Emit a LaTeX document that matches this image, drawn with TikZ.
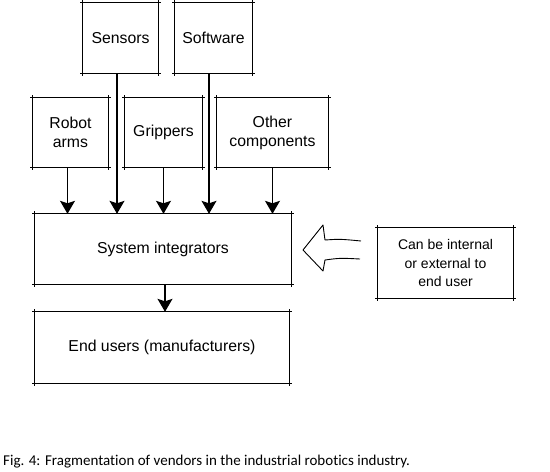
\documentclass[tikz,border=0pt]{standalone}
\usepackage{fontspec}
\setmainfont{Liberation Sans}
\newfontfamily\capfont[Ligatures=NoCommon]{Carlito}
\usetikzlibrary{arrows.meta}

\tikzset{
  ext/.style = {shorten <=-2.5pt, shorten >=-2.5pt, line width=0.9pt},
  sketch/.style = {inner sep=0pt, align=center, font=\fontsize{15.8}{19}\selectfont,
    append after command = {
      (\tikzlastnode.north west) edge[ext] (\tikzlastnode.north east)
      (\tikzlastnode.south west) edge[ext, line width=1.3pt] (\tikzlastnode.south east)
      (\tikzlastnode.north west) edge[ext] (\tikzlastnode.south west)
      (\tikzlastnode.north east) edge[ext] (\tikzlastnode.south east)}},
  arr/.style = {line width=1.2pt, -{Stealth[width=15pt, length=13pt, inset=2.5pt]}}
}

\begin{document}
\begin{tikzpicture}[x=1pt, y=-1pt]
\useasboundingbox (0,0) rectangle (550,472);
% components and vendors
\node[sketch, minimum width=75pt, minimum height=70pt] (sen) at (120.5,38) {Sensors};
\node[sketch, minimum width=77pt, minimum height=70pt] (sof) at (213.5,38) {Software};
\node[sketch, minimum width=75pt, minimum height=69pt] (rob) at (70.5,132.5) {Robot\\arms};
\node[sketch, minimum width=77pt, minimum height=69pt] (gri) at (163.5,132.5) {Grippers};
\node[sketch, minimum width=111pt, minimum height=69pt] (oth) at (272.5,132.5) {Other\\components};
\node[sketch, minimum width=256pt, minimum height=70pt] (si) at (163,249) {System integrators};
\node[sketch, minimum width=254pt, minimum height=71pt] (eu) at (162,347.5) {End users (manufacturers)};
\node[sketch, minimum width=135pt, minimum height=70pt, font=\fontsize{14}{18.5}\selectfont] (note) at (445.5,263) {Can be internal\\or external to\\end user};

\draw[arr] ([xshift=-3pt]rob.south) -- ([xshift=-3pt]rob.south |- si.north);
\draw[arr] ([xshift=-3.5pt]sen.south) -- ([xshift=-3.5pt]sen.south |- si.north);
\draw[arr] (gri.south) -- (gri.south |- si.north);
\draw[arr] ([xshift=-4.5pt]sof.south) -- ([xshift=-4.5pt]sof.south |- si.north);
\draw[arr] (oth.south) -- (oth.south |- si.north);
\draw[arr] ([xshift=2pt]si.south) -- ([xshift=2pt]si.south |- eu.north);

% hollow arrow from the note
\draw[line width=0.9pt, line join=round]
  (361,241) .. controls (340,239) .. (325,240) -- (323,225) -- (303,250)
  -- (323,271) -- (325,260) .. controls (340,258) .. (360,259);

\node[anchor=base west, inner sep=0pt, font=\capfont\fontsize{15}{17}\selectfont] (cap) at (3,465)
  {Fig. 4: Fragmentation of vendors in the industrial robotics industry.};
\end{tikzpicture}
\end{document}
